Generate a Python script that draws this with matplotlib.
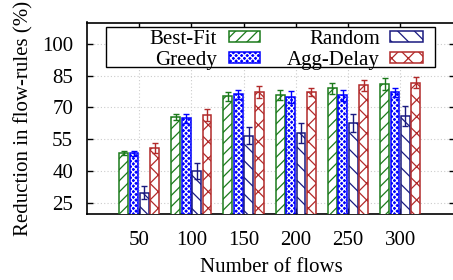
import matplotlib
matplotlib.use("Agg")
import matplotlib.pyplot as plt
import numpy as np
from matplotlib.patches import Rectangle

flows = ["50", "100", "150", "200", "250", "300"]
series = ["Best-Fit", "Greedy", "Random", "Agg-Delay"]
best_fit = [48.4, 65.3, 75.2, 75.9, 78.9, 80.8]
best_fit_err = [1.1, 1.4, 2.2, 2.5, 2.8, 2.8]
greedy = [48.4, 64.8, 76.1, 74.8, 75.6, 77.0]
greedy_err = [1.2, 2.0, 2.2, 2.7, 2.8, 2.3]
random_ = [29.7, 40.0, 56.5, 57.8, 62.6, 65.8]
random_err = [3.0, 3.9, 4.0, 4.7, 4.4, 4.6]
agg_delay = [50.8, 66.4, 77.2, 77.3, 80.3, 81.7]
agg_delay_err = [2.2, 2.7, 3.0, 1.9, 2.6, 2.8]
yticks = [25, 40, 55, 70, 85, 100]

plt.rcParams['font.family'] = ['Liberation Serif', 'DejaVu Serif']
plt.rcParams['hatch.linewidth'] = 0.9

FS = 15

fig = plt.figure(figsize=(4.53, 2.80), dpi=100)
ax = fig.add_axes([87/453, 1 - 214/280, (455 - 87)/453, (214 - 22.5)/280])

x = np.arange(len(flows))
pitch = 0.2
w = 0.17
styles = [
    dict(color="#1b7a1b", hatch="///", face="white"),
    dict(color="#0000ff", hatch="xxxxxx", face="#0000ff"),
    dict(color="#1a1a80", hatch="\\\\", face="white"),
    dict(color="#b22a2a", hatch="xx", face="white"),
]
vals = [best_fit, greedy, random_, agg_delay]
errs = [best_fit_err, greedy_err, random_err, agg_delay_err]

for i, (v, e, st) in enumerate(zip(vals, errs, styles)):
    pos = x + (i - 1.5) * pitch
    if st["face"] == "white":
        ax.bar(pos, v, width=w, facecolor="white", edgecolor=st["color"],
               hatch=st["hatch"], linewidth=1.1, zorder=3)
    else:
        ax.bar(pos, v, width=w, facecolor=st["face"], edgecolor="white",
               hatch=st["hatch"], linewidth=0, zorder=3)
        ax.bar(pos, v, width=w, facecolor="none", edgecolor=st["color"],
               linewidth=1.1, zorder=3)
    ax.errorbar(pos, v, yerr=e, fmt="none", ecolor=st["color"],
                elinewidth=1.0, capsize=2.5, capthick=1.0, zorder=4)

ax.set_xlim(-1, 6.05)
ax.set_ylim(19.7, 110)
ax.set_xticks(x)
ax.set_xticklabels(flows)
ax.set_yticks(yticks)
ax.tick_params(axis="both", direction="in", length=4, width=1.0,
               labelsize=FS, top=True, right=True)
ax.tick_params(axis="x", pad=12)
ax.tick_params(axis="y", pad=10)
ax.grid(True, linestyle=(0, (1, 2)), color="#cccccc", linewidth=0.8, zorder=0)
ax.set_axisbelow(True)
for s in ax.spines.values():
    s.set_linewidth(1.2)

ax.set_xlabel("Number of flows", fontsize=FS, labelpad=6)
ax.set_ylabel("Reduction in flow-rules (%)", fontsize=FS, labelpad=6)

# legend drawn manually (gnuplot style, text right-aligned before sample)
def fx(px):
    return (px - 87) / (455 - 87)

def fy(py):
    return 1 - (py - 22.5) / (214 - 22.5)

ax.add_patch(Rectangle((fx(106), fy(66.7)), fx(435) - fx(106), fy(26.7) - fy(66.7),
                       transform=ax.transAxes, facecolor="white", edgecolor="black",
                       linewidth=1.0, zorder=5))
# (text right x, sample left x, sample top, sample bottom, baseline)
leg_pos = [(217, 229, 31.5, 41.5, 44.5), (217, 229, 52, 62.5, 64.5),
           (380, 390, 31.5, 41.5, 44.5), (380, 390, 52, 62.5, 64.5)]
for i in range(4):
    tx, px, top, bot, base = leg_pos[i]
    st = styles[i]
    ax.text(fx(tx), fy(base), series[i], transform=ax.transAxes, ha="right",
            va="baseline", fontsize=FS, zorder=6)
    pw = 31 if i < 2 else 33
    rect = ((fx(px), fy(bot)), fx(px + pw) - fx(px), fy(top) - fy(bot))
    if st["face"] == "white":
        ax.add_patch(Rectangle(*rect, transform=ax.transAxes, facecolor="white",
                               edgecolor=st["color"], hatch=st["hatch"], linewidth=1.1, zorder=6))
    else:
        ax.add_patch(Rectangle(*rect, transform=ax.transAxes, facecolor=st["face"],
                               edgecolor="white", hatch=st["hatch"], linewidth=0, zorder=6))
        ax.add_patch(Rectangle(*rect, transform=ax.transAxes, facecolor="none",
                               edgecolor=st["color"], linewidth=1.1, zorder=6))

fig.savefig("out.png", dpi=100)
